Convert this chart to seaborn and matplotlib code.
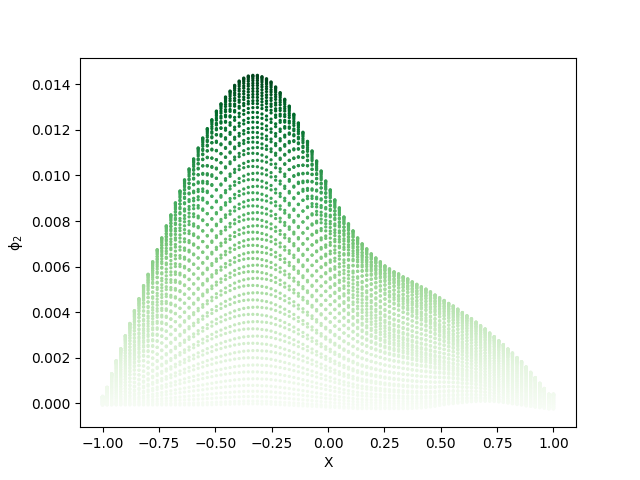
import numpy as np
import pandas as pd
import matplotlib
matplotlib.use('Agg')
import matplotlib.pyplot as plt
import seaborn as sns

# grid of 100 columns, ticks from the picture
x_values = np.linspace(-1, 1, 100)

# highest point of each column
top_curve = [
    .00029, .00069, .00129, .00186, .00239, .00296, .00350, .00406, .00459, .00516,
    .00566, .00621, .00674, .00726, .00779, .00827, .00880, .00932, .00981, .01029,
    .01073, .01121, .01165, .01206, .01245, .01283, .01315, .01345, .01371, .01396,
    .01415, .01428, .01437, .01440, .01440, .01434, .01425, .01411, .01389, .01364,
    .01335, .01305, .01269, .01231, .01190, .01150, .01108, .01064, .01020, .00976,
    .00937, .00893, .00858, .00818, .00788, .00757, .00726, .00700, .00678, .00656,
    .00638, .00621, .00603, .00590, .00577, .00568, .00555, .00546, .00533, .00522,
    .00511, .00501, .00489, .00475, .00463, .00451, .00438, .00427, .00413, .00398,
    .00384, .00371, .00356, .00340, .00326, .00308, .00292, .00274, .00257, .00238,
    .00220, .00200, .00182, .00159, .00135, .00112, .00087, .00064, .00039, .00039,
]

# lowest point of each column
low_curve = [
    -.00008, -.00008, -.00008, -.00008, -.00008, -.00008, -.00008, -.00008, -.00008, -.00008,
    -.00008, -.00008, -.00008, -.00008, -.00008, -.00008, -.00008, -.00008, -.00008, -.00008,
    -.00008, -.00008, -.00008, -.00007, -.00007, -.00006, -.00006, -.00005, -.00005, -.00004,
    -.00004, -.00003, -.00003, -.00003, -.00003, -.00004, -.00004, -.00005, -.00006, -.00007,
    -.00008, -.00009, -.00010, -.00011, -.00012, -.00013, -.00014, -.00015, -.00016, -.00017,
    -.00018, -.00019, -.00020, -.00021, -.00022, -.00023, -.00024, -.00024, -.00024, -.00024,
    -.00024, -.00024, -.00024, -.00024, -.00024, -.00024, -.00024, -.00024, -.00023, -.00022,
    -.00021, -.00019, -.00017, -.00014, -.00010, -.00007, -.00004, -.00002, .00000, .00002,
    .00004, .00006, .00007, .00008, .00008, .00008, .00007, .00005, .00003, .00000,
    -.00003, -.00006, -.00008, -.00012, -.00014, -.00017, -.00019, -.00021, -.00024, -.00024,
]

# height of each curve between low_curve (0) and top_curve (1), from the rows at the peak
levels = [
    1.000, .998, .995, .990, .984, .976, .969, .960, .951, .942,
    .933, .923, .914, .902, .887, .872, .857, .841, .826, .811,
    .796, .780, .762, .741, .722, .702, .682, .662, .642, .622,
    .602, .582, .562, .542, .522, .502, .482, .462, .442, .422,
    .402, .382, .360, .338, .316, .294, .272, .250, .228, .206,
    .184, .162, .140, .118, .097, .076, .056, .038, .022, .008,
    .000,
]

# how far each curve leans away from the envelope, the rows cross in pairs
leans = [
    0, 0, 0, 0, 0, 0, 0, .01, -.01, .01,
    -.02, .02, -.03, .03, -.04, .04, -.05, .05, -.06, .06,
    -.07, .07, -.07, .07, -.07, .07, -.07, .07, -.07, .07,
    -.07, .07, -.07, .07, -.07, .07, -.07, .07, -.07, .07,
    -.07, .07, -.07, .07, -.07, .07, -.07, .07, -.07, .07,
    -.07, .07, -.07, .07, -.07, .07, -.07, .07, -.07, .07,
    0,
]

rows = []
for level, lean in zip(levels, leans):
    phi = np.array(low_curve) + level * (np.array(top_curve) - np.array(low_curve))
    phi = phi * (1 + lean * (x_values + 0.32))
    rows.append(pd.DataFrame({'X': x_values, 'phi': phi}))
df = pd.concat(rows, ignore_index=True)

fig, ax = plt.subplots(figsize=(6.4, 4.8), dpi=100)
sns.scatterplot(data=df, x='X', y='phi', hue='phi', palette='Greens', s=5.5, linewidth=0,
                legend=False, ax=ax)
ax.set_xlim(-1.1, 1.1)
ax.set_ylim(-0.00106, 0.01518)
ax.set_xlabel('X')
ax.set_ylabel('ϕ$_2$')
plt.savefig('out.png', dpi=100)
